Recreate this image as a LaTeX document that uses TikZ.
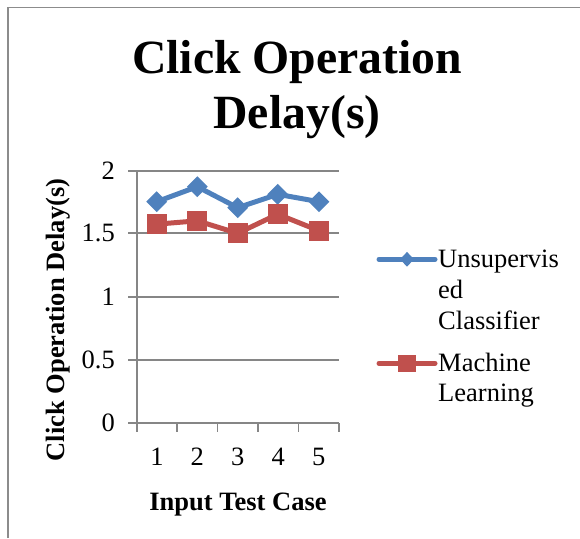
\documentclass[tikz,border=0pt]{standalone}
\usepackage{fontspec}
\setmainfont{Liberation Serif}
\usetikzlibrary{shapes.geometric}
\definecolor{serblue}{HTML}{4F81BD}
\definecolor{serred}{HTML}{C0504D}
\definecolor{gridgray}{HTML}{868686}
\definecolor{framegray}{HTML}{8C8C8C}
\begin{document}
\begin{tikzpicture}[x=1pt,y=-1pt,
  gridln/.style={draw=gridgray,line width=1.3pt},
  framel/.style={draw=framegray,line width=1.8pt},
  titlef/.style={font=\fontsize{47.7}{55}\selectfont\bfseries,inner sep=0pt},
  lab/.style={font=\fontsize{26.5}{30.5}\selectfont,inner sep=0pt},
  axtitle/.style={font=\fontsize{26.5}{30.5}\selectfont\bfseries,inner sep=0pt},
  blueline/.style={draw=serblue,line width=5pt,line join=round,line cap=round},
  redline/.style={draw=serred,line width=5pt,line join=round,line cap=round},
  bluemark/.style={diamond,fill=serblue,draw=none,inner sep=0pt,minimum width=21pt,minimum height=21pt},
  redmark/.style={rectangle,fill=serred,draw=none,inner sep=0pt,minimum width=20pt,minimum height=20pt},
]
\useasboundingbox (0,0) rectangle (580,538);
% frame (top and left only)
\coordinate (fa) at (8.2,538);
\coordinate (fb) at (8.2,7.5);
\coordinate (fc) at (580,7.5);
\draw[framel] (fa) -- (fb) -- (fc);

% title
\node[titlef,anchor=base] (title1) at (297,73.3) {Click Operation};
\node[titlef,anchor=base] (title2) at (297,128.3) {Delay(s)};

% gridlines with outer ticks
\foreach \yy/\nm in {171/g2,233/g15,297/g1,360/g05}{
  \coordinate (\nm l) at (128,\yy);
  \coordinate (\nm r) at (339,\yy);
  \draw[gridln] (\nm l) -- (\nm r);
}
% axes
\coordinate (ytop) at (137,171);
\coordinate (ybot) at (137,432);
\coordinate (x0l) at (128,423);
\coordinate (x0r) at (339,423);
\draw[gridln] (ytop) -- (ybot);
\draw[gridln] (x0l) -- (x0r);
\foreach \xx/\nm in {177/t1,217.5/t2,258/t3,298.5/t4,339/t5}{
  \coordinate (\nm a) at (\xx,423);
  \coordinate (\nm b) at (\xx,432);
  \draw[gridln] (\nm a) -- (\nm b);
}

% y tick labels
\node[lab,anchor=east] (ylab0) at (115,423) {0};
\node[lab,anchor=east] (ylab05) at (115,360) {0.5};
\node[lab,anchor=east] (ylab1) at (115,297) {1};
\node[lab,anchor=east] (ylab15) at (115,233) {1.5};
\node[lab,anchor=east] (ylab2) at (115,171) {2};

% x tick labels
\node[lab,anchor=base] (xlab1) at (157,465) {1};
\node[lab,anchor=base] (xlab2) at (197.3,465) {2};
\node[lab,anchor=base] (xlab3) at (237.7,465) {3};
\node[lab,anchor=base] (xlab4) at (278.2,465) {4};
\node[lab,anchor=base] (xlab5) at (318.8,465) {5};

% axis titles
\node[axtitle,anchor=base] (xtitle) at (238,510) {Input Test Case};
\node[axtitle,anchor=base,rotate=90] (ytitle) at (64,320) {Click Operation Delay(s)};

% data: Unsupervised Classifier
\coordinate (b1) at (156.7,201.7);
\coordinate (b2) at (197.3,186.7);
\coordinate (b3) at (237.7,207.7);
\coordinate (b4) at (277.7,194.3);
\coordinate (b5) at (319,201.7);
% data: Machine Learning
\coordinate (r1) at (156.7,224.2);
\coordinate (r2) at (197.3,220.8);
\coordinate (r3) at (237.7,233.3);
\coordinate (r4) at (277.7,214.2);
\coordinate (r5) at (319,230.7);

\draw[blueline] (b1) -- (b2) -- (b3) -- (b4) -- (b5);
\draw[redline] (r1) -- (r2) -- (r3) -- (r4) -- (r5);
\foreach \i in {1,...,5}{
  \node[bluemark] (bm\i) at (b\i) {};
}
\foreach \i in {1,...,5}{
  \node[redmark] (rm\i) at (r\i) {};
}

% legend
\coordinate (lba) at (379,259.3);
\coordinate (lbb) at (435,259.3);
\draw[blueline] (lba) -- (lbb);
\node[bluemark,minimum width=14pt,minimum height=15pt] (lbm) at (407,259.3) {};
\coordinate (lra) at (379,363.3);
\coordinate (lrb) at (435,363.3);
\draw[redline] (lra) -- (lrb);
\node[redmark,minimum width=18pt,minimum height=17pt] (lrm) at (407,363.3) {};

\node[lab,anchor=base west] (leg1a) at (438,267.3) {Unsupervis};
\node[lab,anchor=base west] (leg1b) at (438,298.3) {ed};
\node[lab,anchor=base west] (leg1c) at (438,329.3) {Classifier};
\node[lab,anchor=base west] (leg2a) at (438,371.7) {Machine};
\node[lab,anchor=base west] (leg2b) at (438,401.5) {Learning};
\end{tikzpicture}
\end{document}
